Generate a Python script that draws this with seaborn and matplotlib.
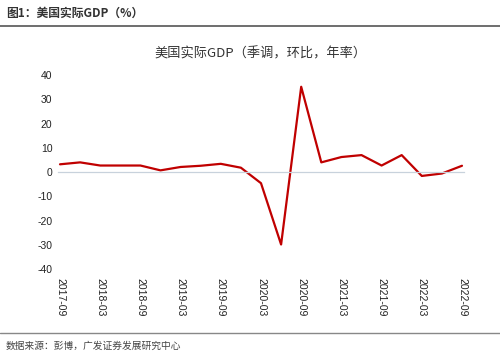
import numpy as np
import pandas as pd
import matplotlib
matplotlib.use("Agg")
import matplotlib.pyplot as plt
import seaborn as sns

# quarterly US real GDP, qoq saar (%)
quarters = ['2017-09', '2017-12', '2018-03', '2018-06', '2018-09', '2018-12',
            '2019-03', '2019-06', '2019-09', '2019-12', '2020-03', '2020-06',
            '2020-09', '2020-12', '2021-03', '2021-06', '2021-09', '2021-12',
            '2022-03', '2022-06', '2022-09']
gdp = [3.2, 4.0, 2.7, 2.7, 2.7, 0.7, 2.1, 2.6, 3.4, 1.8, -4.6, -29.9,
       35.2, 4.0, 6.2, 7.0, 2.7, 7.0, -1.6, -0.6, 2.6]
tick_labels = quarters[::2]

df = pd.DataFrame({'idx': np.arange(len(quarters)), 'quarter': quarters, 'gdp': gdp})

sns.set_style("white")
plt.rcParams['font.family'] = ['Liberation Sans', 'Noto Sans CJK SC', 'DejaVu Sans']
plt.rcParams['axes.unicode_minus'] = False

fig = plt.figure(figsize=(5.0, 3.63), dpi=100)
ax = fig.add_axes([0.116, 0.259, 0.812, 0.534])

sns.lineplot(data=df, x='idx', y='gdp', color='#C00000', linewidth=1.6, ax=ax)

# spine move first (it resets the ticks)
for s in ['top', 'right', 'left']:
    ax.spines[s].set_visible(False)
ax.spines['bottom'].set_position(('data', 0))
ax.spines['bottom'].set_color('#c8d2dc')
ax.spines['bottom'].set_linewidth(0.9)

ax.tick_params(axis='y', labelsize=7.5, colors='#222222', length=0, pad=4)
ax.tick_params(axis='x', direction='in', length=2.5, color='#c8d2dc', pad=76,
               labelsize=7.5, labelcolor='#222222')
ax.set_ylim(-40, 40)
ax.set_yticks(np.arange(-40, 41, 10))
ax.set_xlim(-0.1, 20.1)
ax.set_xticks(np.arange(0, len(quarters), 2))
ax.set_xticklabels(tick_labels, rotation=-90, va='top', ha='center')
ax.set_xlabel('')
ax.set_ylabel('')

ax.set_title('美国实际GDP（季调，环比，年率）', fontsize=9.5, color='#333333',
             pad=13, family=['Noto Sans CJK SC', 'DejaVu Sans'])

# header and footer
fig.text(0.012, 0.962, '图1：美国实际GDP（%）', fontsize=8.5, fontweight='bold',
         color='#333333', va='center', family=['Noto Sans CJK SC', 'DejaVu Sans'])
fig.add_artist(plt.Line2D([0.0, 1.0], [0.927, 0.927], color='#555555', linewidth=1.2))
fig.add_artist(plt.Line2D([0.0, 1.0], [0.083, 0.083], color='#888888', linewidth=1.0))
fig.text(0.012, 0.047, '数据来源：彭博，广发证券发展研究中心', fontsize=7, color='#444444',
         va='center', family=['Noto Sans CJK SC', 'DejaVu Sans'])

fig.savefig('out.png', dpi=100)
